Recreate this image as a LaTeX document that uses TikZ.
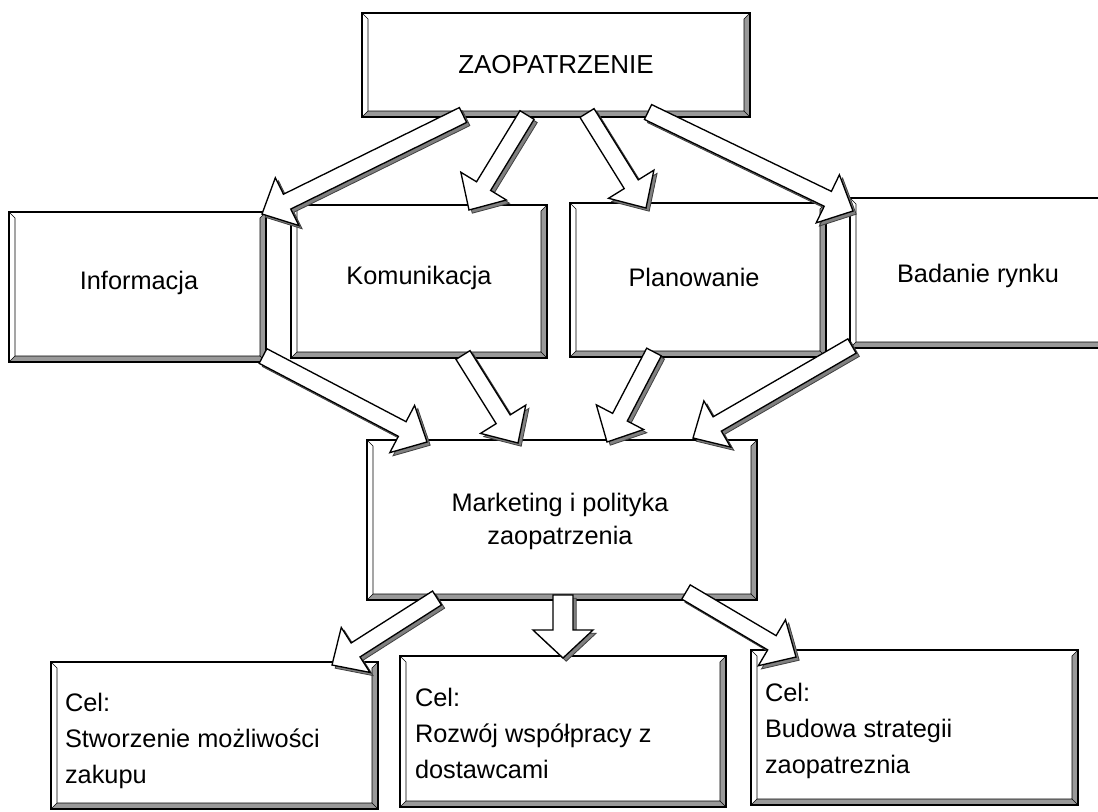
\documentclass[tikz,border=0pt]{standalone}
\usepackage{fontspec}
\setmainfont{Liberation Sans}
\usetikzlibrary{calc}
\tikzset{
  bx/.style={draw=black, line width=1pt, fill=white, inner sep=0pt, outer sep=0pt, anchor=north west},
  bevfill/.style={fill=black!40},
  bevline/.style={draw=black, line width=0.45pt},
  lbl/.style={font=\fontsize{19}{27}\selectfont, inner sep=0pt, outer sep=0pt},
  arrbody/.style={fill=white, draw=black, line width=1pt, line join=miter},
  arrshadow/.style={fill=black!50, draw=black!75, line width=0.6pt, line join=miter},
}
% box with bevel: name, x1, y1, x2, y2 (pixels, y downwards)
\newcommand{\mkbox}[5]{%
  \node[bx, minimum width={(#4-#2)*0.75pt}, minimum height={(#5-#3)*0.75pt}] (#1) at (#2,#3) {};
  \fill[bevfill] (#1.north east) -- (#1.south east) -- ($(#1.south east)+(-6,-6)$) -- ($(#1.north east)+(-6,6)$) -- cycle;
  \fill[bevfill] (#1.south west) -- (#1.south east) -- ($(#1.south east)+(-6,-6)$) -- ($(#1.south west)+(6,-6)$) -- cycle;
  \draw[bevline] (#1.north west) -- ($(#1.north west)+(6,6)$) -- ($(#1.south west)+(6,-6)$) -- (#1.south west);
  \draw[bevline] (#1.north east) -- ($(#1.north east)+(-6,6)$) -- ($(#1.south east)+(-6,-6)$) -- ($(#1.south west)+(6,-6)$);
  \draw[bevline] ($(#1.south east)+(-6,-6)$) -- (#1.south east);
  \draw[line width=1pt] (#1.north west) rectangle (#1.south east);
}
% arrow polygon: style, tail, tip, shaft half width, head half width
\newcommand{\arrpoly}[5]{%
  \path[#1] ($(#2)!#4!90:(#3)$) -- ($(ba-n)!#4!90:(#3)$) -- ($(ba-n)!#5!90:(#3)$) -- (#3)
    -- ($(ba-n)!#5!-90:(#3)$) -- ($(ba-n)!#4!-90:(#3)$) -- ($(#2)!#4!-90:(#3)$) -- cycle;}
% block arrow: tail, tip, shaft half width, head half width
\newcommand{\blockarr}[4]{%
  \coordinate (ba-n) at ($(#2)!21pt!(#1)$);
  \begin{scope}[transform canvas={shift={(2.4pt,-2.4pt)}}]
    \arrpoly{arrshadow}{#1}{#2}{#3}{#4}
  \end{scope}
  \arrpoly{arrbody}{#1}{#2}{#3}{#4}
}
\begin{document}
\begin{tikzpicture}[x=0.75pt, y=-0.75pt]
\useasboundingbox[fill=white] (0,0) rectangle (1098,811);
\clip (0,0) rectangle (1098,811);

% boxes
\mkbox{top}{362}{13}{750}{117}
\mkbox{info}{9}{212}{266}{362}
\mkbox{kom}{291}{205}{547}{358}
\mkbox{plan}{570}{203}{826}{357}
\mkbox{bad}{850}{198}{1115}{348}
\mkbox{mkt}{367}{440}{757}{600}
\mkbox{c1}{51}{662}{378}{809}
\mkbox{c2}{400}{656}{726}{807}
\mkbox{c3}{751}{650}{1078}{805}

% arrow end points
\coordinate (a1s) at (463,115);  \coordinate (a1e) at (262,214);
\coordinate (a2s) at (527,115);  \coordinate (a2e) at (469,210);
\coordinate (a3s) at (587,113);  \coordinate (a3e) at (646,208);
\coordinate (a4s) at (648,112);  \coordinate (a4e) at (853,211);
\coordinate (a5s) at (263,356);  \coordinate (a5e) at (427,442);
\coordinate (a6s) at (463,355);  \coordinate (a6e) at (518,443);
\coordinate (a7s) at (654,352);  \coordinate (a7e) at (607,442);
\coordinate (a8s) at (852,346);  \coordinate (a8e) at (693,438);
\coordinate (a9s) at (437,598);  \coordinate (a9e) at (332,665);
\coordinate (a10s) at (563,595); \coordinate (a10e) at (563,658);
\coordinate (a11s) at (686,592); \coordinate (a11e) at (796,657);

% arrows
\blockarr{a1s}{a1e}{6.2pt}{20pt}
\blockarr{a2s}{a2e}{6.2pt}{20pt}
\blockarr{a3s}{a3e}{6.2pt}{20pt}
\blockarr{a4s}{a4e}{6.2pt}{20pt}
\blockarr{a5s}{a5e}{6.2pt}{20pt}
\blockarr{a6s}{a6e}{6.2pt}{20pt}
\blockarr{a7s}{a7e}{6.2pt}{20pt}
\blockarr{a8s}{a8e}{6.2pt}{20pt}
\blockarr{a9s}{a9e}{6.2pt}{20pt}
\blockarr{a10s}{a10e}{7.5pt}{22.5pt}
\blockarr{a11s}{a11e}{6.2pt}{20pt}

% texts
\node[lbl, anchor=base, font=\fontsize{19.5}{24}\selectfont] (t-top) at (556,73) {ZAOPATRZENIE};
\node[lbl, anchor=base] (t-info) at (139,289) {Informacja};
\node[lbl, anchor=base] (t-kom) at (419,284) {Komunikacja};
\node[lbl, anchor=base] (t-plan) at (694,286) {Planowanie};
\node[lbl, anchor=base] (t-bad) at (978,282) {Badanie rynku};
\node[lbl, align=center, font=\fontsize{19}{24.75}\selectfont] (t-mkt) at (560,521) {Marketing i polityka\\zaopatrzenia};
\node[lbl, anchor=north west, align=left] (t-c1) at (65,693) {Cel:\\Stworzenie możliwości\\zakupu};
\node[lbl, anchor=north west, align=left] (t-c2) at (415,688) {Cel:\\Rozwój współpracy z\\dostawcami};
\node[lbl, anchor=north west, align=left] (t-c3) at (765,683) {Cel:\\Budowa strategii\\zaopatreznia};
\end{tikzpicture}
\end{document}
